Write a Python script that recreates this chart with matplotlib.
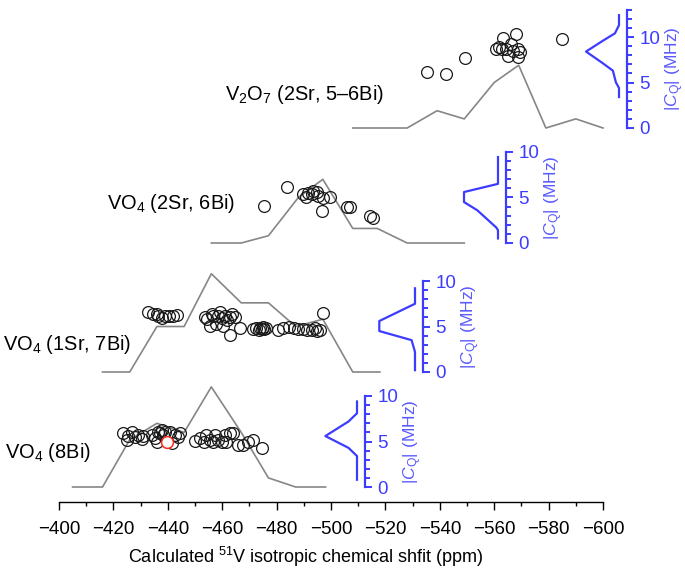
import matplotlib
matplotlib.use('Agg')
import matplotlib.pyplot as plt
from matplotlib.ticker import MultipleLocator

plt.rcParams['font.family'] = ['Liberation Sans', 'DejaVu Sans']
plt.rcParams['mathtext.fontset'] = 'custom'
plt.rcParams['mathtext.rm'] = 'Liberation Sans'
plt.rcParams['mathtext.it'] = 'Liberation Sans:italic'
plt.rcParams['mathtext.default'] = 'regular'

# ---- data ------------------------------------------------------------------
# V2O7 (2Sr, 5-6Bi)
v2o7_hist_x = [-508, -518, -528, -539, -549, -560, -569, -579, -590, -600]
v2o7_hist_y = [0, 0, 0, 1.9, 1.0, 5.0, 6.9, 0, 1.0, 0]
v2o7_shift = [-535.4, -542.3, -549.3, -560.5, -563.4, -567.9, -566.2, -563.0,
              -564.9, -568.9, -568.6, -564.2, -585.0, -566.8, -569.5, -561.8]
v2o7_cq = [6.2, 5.9, 7.7, 8.7, 9.9, 10.3, 9.2, 8.7,
           7.9, 8.7, 7.8, 8.7, 9.8, 8.5, 8.3, 8.9]
v2o7_dist_cq = [12.4, 11.3, 10.4, 9.6, 8.4, 7.1, 6.3, 5.0, 4.4, 3.4]
v2o7_dist = [0, 0, 0.12, 0.47, 0.97, 0.47, 0.18, 0.09, 0, 0]

# VO4 (2Sr, 6Bi)
vo4_2sr_hist_x = [-456, -467, -477, -488, -497, -508, -517, -528, -538, -549]
vo4_2sr_hist_y = [0, 0, 0.8, 5.0, 7.0, 1.6, 1.6, 0, 0, 0]
vo4_2sr_shift = [-475.4, -483.7, -489.8, -490.7, -492.9, -494.7, -495.3, -497.2,
                 -499.6, -496.8, -505.7, -507.0, -514.3, -515.6, -493.5, -491.5]
vo4_2sr_cq = [4.1, 6.15, 5.4, 5.0, 5.4, 5.6, 5.2, 4.9,
              5.0, 3.5, 4.0, 3.95, 2.95, 2.7, 5.7, 5.5]
vo4_2sr_dist_cq = [9.45, 6.5, 5.6, 4.5, 3.6, 1.7, 1.4, 0.5]
vo4_2sr_dist = [0, 0, 1.0, 1.0, 0.61, 0.05, 0, 0]

# VO4 (1Sr, 7Bi)
vo4_1sr_hist_x = [-416, -426, -436, -446, -456, -467, -477, -487, -497, -508, -518]
vo4_1sr_hist_y = [0, 0, 5.0, 5.0, 10.8, 7.6, 7.6, 5.0, 5.8, 0, 0]
vo4_1sr_shift = [-432.8, -434.7, -436.5, -437.8, -439.0, -440.6, -442.0, -443.5, -435.9,
                 -453.7, -454.3, -456.1, -457.9, -459.2, -459.8, -461.0, -461.6, -462.9,
                 -463.5, -464.7, -460.4, -462.9, -466.5, -455.5, -456.7, -458.5,
                 -471.5, -472.5, -473.5, -474.0, -474.5, -475.0, -475.5, -476.0,
                 -480.6, -482.5, -484.7, -486.4, -488.0, -489.8, -491.3, -492.9,
                 -494.7, -494.1, -495.9, -497.2]
vo4_1sr_cq = [6.6, 6.4, 6.2, 5.9, 6.2, 6.1, 6.2, 6.3, 6.4,
              6.0, 5.8, 6.4, 5.3, 6.6, 5.9, 6.2, 5.7, 6.0,
              6.4, 6.0, 5.1, 4.1, 4.8, 5.1, 6.2, 6.1,
              4.7, 4.8, 4.6, 4.8, 4.7, 4.9, 4.7, 4.8,
              4.6, 4.8, 5.0, 4.8, 4.7, 4.7, 4.6, 4.6,
              4.5, 4.8, 4.6, 6.5]
vo4_1sr_dist_cq = [9.2, 7.5, 5.6, 4.5, 3.5, 2.2, 0.2]
vo4_1sr_dist = [0, 0, 1.05, 1.05, 0.1, 0, 0]

# VO4 (8Bi)
vo4_8bi_hist_x = [-405, -416, -426, -436, -446, -456, -467, -477, -487, -498]
vo4_8bi_hist_y = [0, 0, 5.2, 7.0, 6.0, 11.0, 6.0, 1.0, 0, 0]
vo4_8bi_shift = [-423.6, -425.5, -426.7, -427.9, -429.2, -430.4, -431.0, -425.0,
                 -434.1, -435.3, -436.5, -437.0, -437.7, -438.4, -439.0, -440.8,
                 -441.4, -442.6, -443.9, -444.5, -435.9,
                 -450.0, -451.8, -453.3, -454.0, -455.5, -456.7, -457.4, -458.6,
                 -459.8, -461.0, -462.9, -461.5, -463.8,
                 -465.9, -467.8, -469.6, -471.4, -474.5]
vo4_8bi_cq = [5.9, 5.6, 6.0, 5.5, 5.75, 5.3, 5.6, 5.2,
              5.75, 5.4, 6.0, 5.9, 6.3, 5.7, 6.0, 6.0,
              4.85, 5.75, 5.5, 5.9, 5.0,
              5.1, 5.4, 5.0, 5.75, 5.2, 5.0, 5.75, 5.2,
              5.0, 5.75, 5.9, 5.0, 5.9,
              4.65, 4.65, 5.0, 5.2, 4.3]
vo4_8bi_marked_shift = [-439.8]
vo4_8bi_marked_cq = [5.0]
vo4_8bi_dist_cq = [9.4, 8.1, 7.2, 5.6, 4.3, 3.4, 0.8]
vo4_8bi_dist = [0, 0, 0.25, 0.93, 0.25, 0, 0]

labels = [r'V$_2$O$_7$ (2Sr, 5–6Bi)', r'VO$_4$ (2Sr, 6Bi)',
          r'VO$_4$ (1Sr, 7Bi)', r'VO$_4$ (8Bi)']

# ---- layout (pixels in a 685 x 573 canvas) --------------------------------
W, H = 685, 573
X0_PX, X1_PX = 59, 603     # where -400 and -600 sit
AXIS_PX = 502              # bottom axis line
PX_PER_UNIT = 9.1
BLUE = '#3c3cff'
GREY = '#868686'

panels = [
    dict(hx=v2o7_hist_x, hy=v2o7_hist_y, sx=v2o7_shift, sy=v2o7_cq,
         dcq=v2o7_dist_cq, d=v2o7_dist, base=128, spine=627, cqmax=13,
         label_xy=(225, 95)),
    dict(hx=vo4_2sr_hist_x, hy=vo4_2sr_hist_y, sx=vo4_2sr_shift, sy=vo4_2sr_cq,
         dcq=vo4_2sr_dist_cq, d=vo4_2sr_dist, base=243, spine=506, cqmax=10,
         label_xy=(107, 204)),
    dict(hx=vo4_1sr_hist_x, hy=vo4_1sr_hist_y, sx=vo4_1sr_shift, sy=vo4_1sr_cq,
         dcq=vo4_1sr_dist_cq, d=vo4_1sr_dist, base=372, spine=423, cqmax=10,
         label_xy=(3, 344)),
    dict(hx=vo4_8bi_hist_x, hy=vo4_8bi_hist_y, sx=vo4_8bi_shift, sy=vo4_8bi_cq,
         dcq=vo4_8bi_dist_cq, d=vo4_8bi_dist, base=487, spine=365, cqmax=10,
         label_xy=(5, 452)),
]


def fig_rect(left_px, top_px, width_px, height_px):
    return [left_px / W, 1 - (top_px + height_px) / H, width_px / W, height_px / H]


fig = plt.figure(figsize=(W / 100, H / 100), dpi=100)

# bottom axis carrying the chemical-shift scale
main = fig.add_axes(fig_rect(X0_PX, 0, X1_PX - X0_PX, AXIS_PX))
main.set_xlim(-400, -600)
main.set_ylim(0, 1)
for side in ('left', 'right', 'top'):
    main.spines[side].set_visible(False)
main.spines['bottom'].set_linewidth(1.0)
main.set_yticks([])
main.xaxis.set_major_locator(MultipleLocator(20))
main.xaxis.set_minor_locator(MultipleLocator(10))
main.tick_params(axis='x', which='major', length=5.5, width=1.0, pad=8.5, labelsize=13.5)
main.tick_params(axis='x', which='minor', length=3, width=1.0)
main.set_xlabel(r'Calculated $^{51}$V isotropic chemical shfit (ppm)', fontsize=13)
main.xaxis.set_label_coords((306 - X0_PX) / (X1_PX - X0_PX), -(557 - AXIS_PX) / AXIS_PX)
main.xaxis.label.set_va('center')
main.patch.set_visible(False)

for i, p in enumerate(panels):
    top_units = 13
    ax = fig.add_axes(fig_rect(X0_PX, p['base'] - top_units * PX_PER_UNIT,
                               X1_PX - X0_PX, top_units * PX_PER_UNIT))
    ax.set_xlim(-400, -600)
    ax.set_ylim(0, top_units)
    ax.axis('off')
    ax.plot(p['hx'], p['hy'], color=GREY, lw=1.2, clip_on=False)
    ax.plot(p['sx'], p['sy'], 'o', ms=8.5, mfc='none', mec='#1a1a1a', mew=0.9,
            clip_on=False)
    if i == 3:
        ax.plot(vo4_8bi_marked_shift, vo4_8bi_marked_cq, 'o', ms=8.5, mfc='white',
                mec='#ff2a1a', mew=1.1, clip_on=False, zorder=5)

    # CQ distribution with its own blue scale
    inset_w = 50
    bax = fig.add_axes(fig_rect(p['spine'] - inset_w, p['base'] - p['cqmax'] * PX_PER_UNIT,
                                inset_w, p['cqmax'] * PX_PER_UNIT))
    bax.patch.set_visible(False)
    bax.set_xlim(42 / 34, -8 / 34)
    bax.set_ylim(0, p['cqmax'])
    bax.plot(p['d'], p['dcq'], color=BLUE, lw=1.6, clip_on=False)
    for side in ('left', 'top', 'bottom'):
        bax.spines[side].set_visible(False)
    bax.spines['right'].set_color(BLUE)
    bax.spines['right'].set_linewidth(1.6)
    bax.set_xticks([])
    bax.yaxis.tick_right()
    bax.yaxis.set_label_position('right')
    bax.yaxis.set_major_locator(MultipleLocator(5))
    bax.yaxis.set_minor_locator(MultipleLocator(1))
    bax.tick_params(axis='y', which='major', length=5, width=1.4, color=BLUE,
                    labelcolor=BLUE, labelsize=13.5, pad=4)
    bax.tick_params(axis='y', which='minor', length=3.5, width=1.4, color=BLUE)
    bax.set_ylabel(r'|$\mathit{C}_\mathrm{Q}$| (MHz)', color='#5a5aff', fontsize=12.5,
                   labelpad=2)

    lx, ly = p['label_xy']
    fig.text(lx / W, 1 - ly / H, labels[i], fontsize=14.4, ha='left', va='center')

fig.savefig('out.png', dpi=100)
